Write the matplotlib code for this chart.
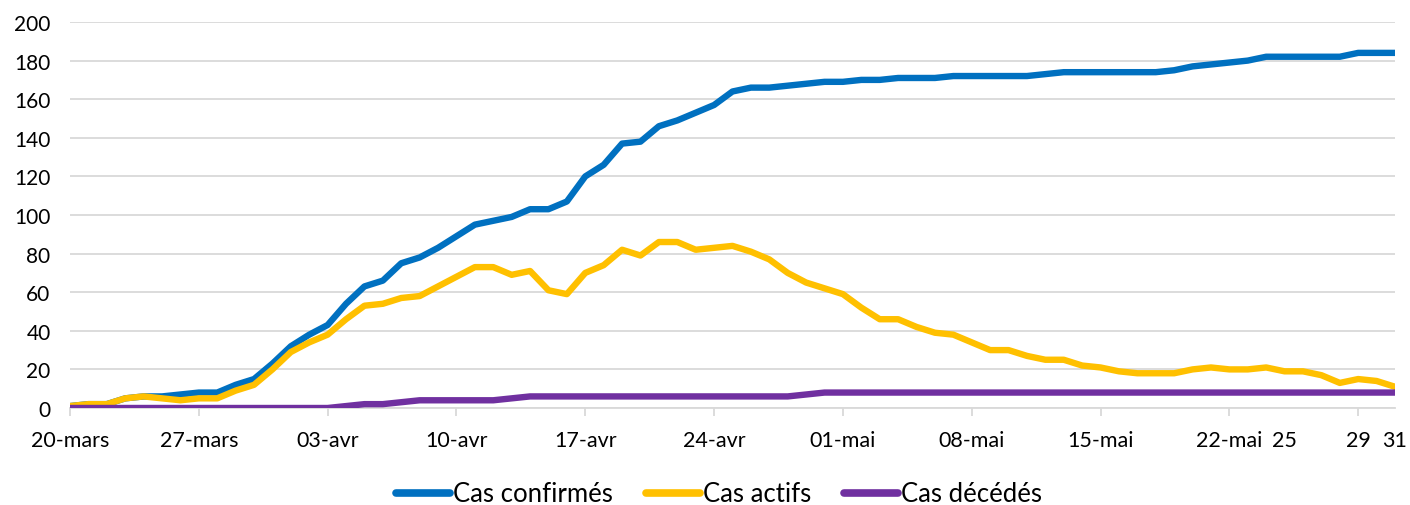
import numpy as np
import pandas as pd
import matplotlib
matplotlib.use("Agg")
from matplotlib import pyplot as plt

plt.rcParams['font.family'] = ['Lato', 'DejaVu Sans']

dates = pd.date_range("2020-03-20", "2020-05-31", freq="D")

confirmes = [1, 2, 2, 5, 6, 6, 7, 8, 8, 12, 15, 23, 32, 38, 43, 54, 63, 66, 75, 78,
             83, 89, 95, 97, 99, 103, 103, 107, 120, 126, 137, 138, 146, 149, 153, 157, 164, 166, 166, 167,
             168, 169, 169, 170, 170, 171, 171, 171, 172, 172, 172, 172, 172, 173, 174, 174, 174, 174, 174, 174,
             175, 177, 178, 179, 180, 182, 182, 182, 182, 182, 184, 184, 184]
actifs = [1, 2, 2, 5, 6, 5, 4, 5, 5, 9, 12, 20, 29, 34, 38, 46, 53, 54, 57, 58,
          63, 68, 73, 73, 69, 71, 61, 59, 70, 74, 82, 79, 86, 86, 82, 83, 84, 81, 77, 70,
          65, 62, 59, 52, 46, 46, 42, 39, 38, 34, 30, 30, 27, 25, 25, 22, 21, 19, 18, 18,
          18, 20, 21, 20, 20, 21, 19, 19, 17, 13, 15, 14, 11]
deces = [0, 0, 0, 0, 0, 0, 0, 0, 0, 0, 0, 0, 0, 0, 0, 1, 2, 2, 3, 4,
         4, 4, 4, 4, 5, 6, 6, 6, 6, 6, 6, 6, 6, 6, 6, 6, 6, 6, 6, 6,
         7, 8, 8, 8, 8, 8, 8, 8, 8, 8, 8, 8, 8, 8, 8, 8, 8, 8, 8, 8,
         8, 8, 8, 8, 8, 8, 8, 8, 8, 8, 8, 8, 8]

major_idx = [0, 7, 14, 21, 28, 35, 42, 49, 56, 63, 70]
major_labels = ["20-mars", "27-mars", "03-avr", "10-avr", "17-avr", "24-avr",
                "01-mai", "08-mai", "15-mai", "22-mai", "29"]
minor_idx = [66, 72]
minor_labels = ["25", "31"]

x = np.arange(len(dates))

fig = plt.figure(figsize=(14.1, 5.06), dpi=100)
ax = fig.add_axes([70 / 1410, 1 - 409 / 506, 1325 / 1410, 386 / 506])

ax.plot(x, confirmes, color="#0070C0", lw=4.6, label="Cas confirmés", zorder=3)
ax.plot(x, actifs, color="#FFC000", lw=4.6, label="Cas actifs", zorder=3)
ax.plot(x, deces, color="#7030A0", lw=4.6, label="Cas décédés", zorder=4)

ax.set_xlim(0, len(dates) - 1)
ax.set_ylim(0, 200)
ax.set_yticks(range(0, 201, 20))
ax.yaxis.grid(True, color="#d9d9d9", lw=1.3)
ax.set_axisbelow(True)

ax.set_xticks(major_idx)
ax.set_xticklabels(major_labels)
ax.set_xticks(minor_idx, minor=True)
ax.set_xticklabels(minor_labels, minor=True)

for s in ["top", "right", "left"]:
    ax.spines[s].set_visible(False)
ax.spines["bottom"].set_color("#d9d9d9")
ax.spines["bottom"].set_linewidth(1.3)
ax.spines["bottom"].set_zorder(2)

ax.tick_params(axis="y", length=0, pad=14, labelsize=15, labelcolor="#000000")
ax.tick_params(axis="x", which="major", length=6, width=1.3, color="#d9d9d9",
               pad=10, labelsize=15.5)
ax.tick_params(axis="x", which="minor", length=0, pad=16, labelsize=15.5)

leg = fig.legend(loc="center", bbox_to_anchor=(0.51, 1 - 495 / 506), ncol=3,
                 frameon=False, fontsize=18.5, handlelength=2.1, handletextpad=0.1,
                 columnspacing=1.3)
for line in leg.get_lines():
    line.set_linewidth(5.5)
    line.set_solid_capstyle("round")

fig.savefig("out.png", dpi=100)
